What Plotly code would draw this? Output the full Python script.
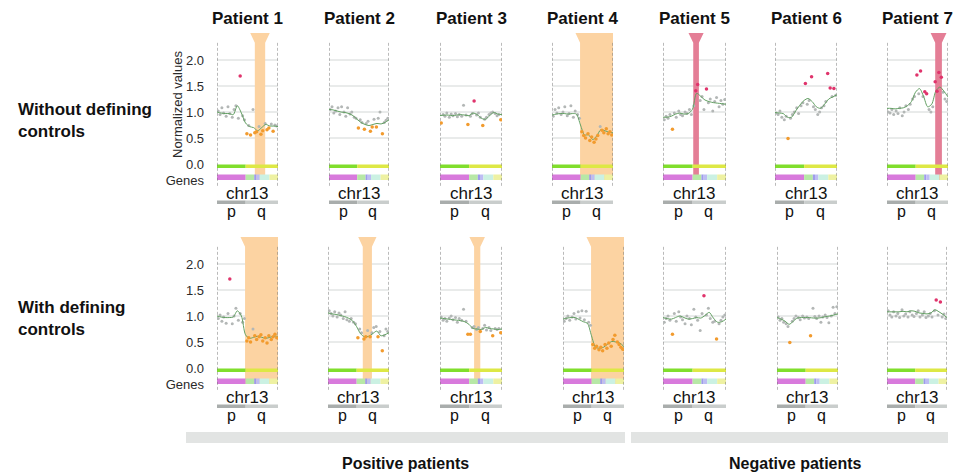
import plotly.graph_objects as go

# ---------------- data ----------------
PATIENTS = ["Patient 1", "Patient 2", "Patient 3", "Patient 4", "Patient 5", "Patient 6", "Patient 7"]
ROW_LABELS = ["Without defining<br>controls", "With defining<br>controls"]
GROUP_LABELS = ["Positive patients", "Negative patients"]
Y_TICK_VALS = [-0.31, 0.0, 0.5, 1.0, 1.5, 2.0]
Y_TICK_TEXT = ["Genes", "0.0", "0.5", "1.0", "1.5", "2.0"]
GRID_VALS = [0.5, 1.0, 1.5, 2.0]
CHROM = "chr13"
ARM_LABELS = ["p", "q"]
ARM_LABEL_X = [0.24, 0.73]
CENTROMERE = 0.47

# relative probe positions along chr13
PROBE_X = [0.02, 0.05, 0.08, 0.11, 0.15, 0.18, 0.21, 0.25, 0.28, 0.31, 0.35, 0.38, 0.42, 0.45,
           0.49, 0.52, 0.55, 0.59, 0.62, 0.65, 0.69, 0.72, 0.75, 0.79, 0.82, 0.85, 0.89, 0.92, 0.95, 0.98]
FIT_X = [0.0, 0.067, 0.133, 0.2, 0.267, 0.333, 0.4, 0.467, 0.533, 0.6, 0.667, 0.733, 0.8, 0.867, 0.933, 1.0]

# ---- without defining controls ----
VALUES_WITHOUT = [
    [1.02, 0.95, 1.08, 0.98, 0.92, 1.10, 0.97, 0.90, 1.05, 1.12, 0.88, 1.69, 0.93, 0.85,
     0.58, 0.74, 0.56, 1.05, 0.60, 0.62, 0.72, 0.57, 0.64, 0.78, 0.66, 0.69, 0.77, 0.63, 0.75, 0.73],
    [1.05, 1.10, 0.98, 1.02, 1.08, 0.95, 1.10, 1.00, 0.92, 1.08, 0.96, 1.00, 0.90, 0.88,
     0.69, 0.85, 0.80, 0.67, 0.78, 0.82, 0.63, 0.71, 0.86, 0.71, 0.88, 1.00, 0.58, 0.80, 0.84, 0.88],
    [0.79, 0.95, 0.92, 0.98, 0.90, 0.96, 0.93, 0.97, 0.91, 0.95, 0.92, 1.13, 0.94, 0.76,
     0.92, 0.97, 1.21, 0.94, 0.98, 0.90, 0.74, 0.86, 0.90, 0.95, 0.98, 1.00, 0.97, 0.93, 0.95, 0.85],
    [0.92, 1.05, 0.98, 1.08, 0.95, 1.00, 1.10, 0.93, 0.97, 1.12, 0.90, 1.02, 0.95, 0.88,
     0.62, 0.55, 0.50, 0.58, 0.45, 0.52, 0.42, 0.48, 0.55, 0.72, 0.65, 0.60, 0.68, 0.58, 0.62, 0.56],
    [0.85, 0.92, 0.88, 0.95, 0.67, 0.98, 0.90, 1.02, 0.95, 0.93, 1.00, 0.97, 1.05, 0.95,
     1.12, 1.41, 1.53, 1.22, 1.30, 1.05, 1.44, 1.18, 1.25, 1.02, 1.20, 1.28, 1.10, 1.22, 1.15, 1.24],
    [0.98, 0.95, 1.02, 0.90, 0.85, 0.92, 0.49, 0.88, 0.95, 1.00, 1.08, 0.97, 1.12, 1.18,
     1.55, 1.15, 1.22, 1.68, 1.10, 1.05, 0.95, 1.00, 1.08, 1.12, 1.20, 1.74, 1.46, 1.30, 1.45, 1.32],
    [1.00, 0.98, 1.05, 0.95, 1.02, 0.97, 1.08, 0.93, 1.00, 1.12, 1.05, 1.15, 1.25, 1.30,
     1.71, 1.35, 1.79, 1.30, 1.39, 1.35, 1.05, 1.00, 1.10, 1.58, 1.40, 1.76, 1.67, 1.38, 1.25, 1.20],
]
FIT_WITHOUT = [
    [1.00, 0.98, 0.97, 0.97, 0.95, 1.12, 0.98, 0.79, 0.72, 0.70, 0.64, 0.70, 0.76, 0.73, 0.73, 0.72],
    [1.05, 1.04, 1.02, 1.00, 0.99, 0.97, 0.93, 0.86, 0.80, 0.76, 0.74, 0.76, 0.78, 0.77, 0.80, 0.85],
    [0.93, 0.94, 0.94, 0.93, 0.94, 0.95, 0.94, 0.93, 0.98, 0.95, 0.88, 0.86, 0.93, 0.99, 0.96, 0.95],
    [0.94, 0.96, 0.97, 0.97, 0.96, 0.97, 0.96, 0.75, 0.56, 0.56, 0.47, 0.54, 0.66, 0.64, 0.61, 0.60],
    [0.90, 0.90, 0.92, 0.96, 0.98, 0.96, 0.97, 1.05, 1.36, 1.30, 1.23, 1.20, 1.18, 1.17, 1.16, 1.15],
    [0.99, 0.98, 0.97, 0.90, 0.90, 1.02, 1.13, 1.22, 1.26, 1.20, 1.10, 1.07, 1.15, 1.25, 1.29, 1.33],
    [1.07, 1.07, 1.06, 1.07, 1.08, 1.12, 1.20, 1.38, 1.45, 1.30, 1.10, 1.15, 1.40, 1.48, 1.40, 1.29],
]
LOSS_WITHOUT = [[14, 16, 18, 19, 21, 22, 24, 25, 27], [14, 17, 20, 21, 23, 26], [0, 13, 20, 29],
                [14, 15, 16, 17, 18, 19, 20, 21, 22, 24, 25, 26, 27, 28, 29], [4], [6], []]
GAIN_WITHOUT = [[11], [], [16], [], [15, 16, 20], [14, 17, 25, 26, 28], [14, 16, 18, 19, 23, 24, 25, 26]]

# ---- with defining controls ----
VALUES_WITH = [
    [0.95, 1.02, 0.90, 0.98, 0.86, 1.05, 1.71, 0.85, 1.00, 1.15, 0.92, 1.05, 0.88, 0.95,
     0.52, 0.58, 0.50, 0.75, 0.62, 0.55, 0.60, 0.64, 0.52, 0.58, 0.48, 0.62, 0.55, 0.60, 0.65, 0.58],
    [1.10, 1.05, 1.00, 1.08, 0.98, 1.06, 1.02, 0.95, 1.08, 0.93, 0.90, 0.95, 0.88, 0.85,
     0.58, 0.75, 0.68, 0.56, 0.60, 0.72, 0.60, 0.68, 0.78, 0.80, 0.60, 0.70, 0.33, 0.62, 0.75, 0.70],
    [0.98, 0.92, 0.95, 0.90, 0.96, 1.00, 0.93, 0.97, 0.88, 0.95, 0.92, 1.13, 0.90, 0.65,
     0.65, 0.78, 0.80, 0.74, 0.78, 0.70, 0.76, 0.82, 0.73, 0.78, 0.72, 0.62, 0.76, 0.74, 0.76, 0.68],
    [0.90, 0.95, 1.00, 0.92, 0.98, 1.05, 0.94, 1.08, 0.96, 1.10, 0.93, 1.09, 0.88, 0.82,
     0.45, 0.38, 0.42, 0.35, 0.40, 0.33, 0.45, 0.38, 0.48, 0.42, 0.55, 0.63, 0.50, 0.45, 0.40, 0.36],
    [0.88, 0.95, 1.00, 0.92, 0.65, 1.05, 0.90, 1.08, 0.98, 0.93, 0.85, 1.00, 0.95, 0.83,
     1.13, 0.98, 0.92, 0.72, 1.05, 1.39, 1.02, 1.15, 0.95, 0.88, 0.90, 0.56, 0.85, 0.92, 0.98, 1.02],
    [0.98, 0.92, 0.95, 0.88, 0.85, 0.80, 0.49, 0.90, 0.95, 1.00, 0.97, 0.93, 1.00, 0.96,
     0.98, 0.95, 0.62, 1.15, 0.99, 0.95, 1.00, 0.88, 0.98, 1.02, 0.97, 0.87, 1.00, 1.17, 1.05, 1.18],
    [1.10, 1.02, 0.98, 1.08, 1.00, 1.05, 0.97, 1.12, 1.00, 1.04, 0.98, 1.08, 1.02, 0.99,
     1.05, 1.10, 0.98, 1.02, 1.08, 0.97, 1.00, 1.05, 0.98, 1.10, 1.31, 1.02, 1.27, 0.98, 1.04, 0.95],
]
FIT_WITH = [
    [1.00, 0.98, 0.97, 0.97, 0.98, 1.10, 1.00, 0.64, 0.57, 0.59, 0.61, 0.59, 0.57, 0.59, 0.61, 0.61],
    [1.06, 1.04, 1.03, 1.01, 0.99, 0.96, 0.91, 0.80, 0.66, 0.60, 0.61, 0.66, 0.71, 0.62, 0.64, 0.68],
    [0.96, 0.95, 0.94, 0.93, 0.92, 0.91, 0.89, 0.84, 0.76, 0.75, 0.74, 0.78, 0.76, 0.75, 0.74, 0.75],
    [0.94, 0.96, 0.97, 0.97, 0.93, 0.89, 0.86, 0.62, 0.40, 0.38, 0.40, 0.46, 0.51, 0.50, 0.48, 0.41],
    [0.97, 0.95, 0.94, 0.97, 1.00, 0.97, 0.94, 0.95, 0.97, 0.96, 1.01, 1.07, 0.96, 0.88, 0.89, 0.94],
    [0.97, 0.94, 0.90, 0.84, 0.90, 0.96, 0.97, 0.97, 0.97, 0.96, 0.96, 0.97, 0.99, 1.00, 1.02, 1.04],
    [1.08, 1.08, 1.08, 1.08, 1.09, 1.08, 1.10, 1.09, 1.06, 1.05, 1.04, 1.06, 1.12, 1.08, 1.03, 0.97],
]
LOSS_WITH = [[14, 15, 16, 18, 19, 20, 21, 22, 23, 24, 25, 26, 27, 28, 29], [14, 17, 18, 20, 24, 26],
             [13, 14, 19, 25, 29], list(range(14, 30)), [4, 25], [6, 16], []]
GAIN_WITH = [[6], [], [], [], [19], [], [24, 26]]

# called aberrant regions: (row, patient, start, end, kind)
REGIONS = [
    (0, 0, 0.62, 0.79, "loss"),
    (0, 3, 0.46, 1.00, "loss"),
    (0, 4, 0.48, 0.57, "gain"),
    (0, 6, 0.79, 0.90, "gain"),
    (1, 0, 0.46, 1.00, "loss"),
    (1, 1, 0.57, 0.72, "loss"),
    (1, 2, 0.55, 0.65, "loss"),
    (1, 3, 0.46, 1.00, "loss"),
]

GENE_BANDS = [(0.0, 0.47, "#D87ADC"), (0.47, 0.61, "#B7E8A6"), (0.61, 0.645, "#9E9CEB"),
              (0.645, 0.70, "#BDBDF3"), (0.70, 0.86, "#CBF1E3"), (0.86, 1.0, "#EEF1A2")]

# ---------------- layout / style ----------------
W, H = 956, 475
FONT = "Liberation Sans, Arial, sans-serif"
PANEL_X_PX = [
    [(217, 278), (329, 389), (440, 502), (552, 613), (663, 726), (775, 837), (887, 948)],
    [(217, 278), (328, 389), (440, 502), (563, 624), (663, 726), (777, 838), (887, 947)],
]
ZERO_PX = [164, 368]
PX_PER_UNIT = 52
Y_LO, Y_HI = -1.05, 2.55
REGION_COLOR = {"loss": "#FCD3A2", "gain": "#E47E96"}
GRAY_DOT = "#B3B7B6"
FIT_COLOR = "#629F62"
LOSS_DOT = "#F29B2E"
GAIN_DOT = "#E0346C"

fig = go.Figure()
shapes = []
annotations = []
layout = {}

rows = [(VALUES_WITHOUT, FIT_WITHOUT, LOSS_WITHOUT, GAIN_WITHOUT),
        (VALUES_WITH, FIT_WITH, LOSS_WITH, GAIN_WITH)]

n = 0
for r in range(2):
    vals_r, fit_r, loss_r, gain_r = rows[r]
    top_px = ZERO_PX[r] - PX_PER_UNIT * Y_HI
    bot_px = ZERO_PX[r] - PX_PER_UNIT * Y_LO
    ydom = [1 - bot_px / H, 1 - top_px / H]
    for c in range(7):
        n += 1
        xa, ya = f"x{n}", f"y{n}"
        x0p, x1p = PANEL_X_PX[r][c]
        layout[f"xaxis{n}"] = dict(domain=[x0p / W, x1p / W], range=[0, 1], anchor=ya,
                                   visible=False, fixedrange=True)
        yax = dict(domain=ydom, range=[Y_LO, Y_HI], anchor=xa, showgrid=False, zeroline=False,
                   showline=False, fixedrange=True, ticks="")
        if c == 0:
            yax.update(showticklabels=True, tickvals=Y_TICK_VALS, ticktext=Y_TICK_TEXT,
                       tickfont=dict(family=FONT, size=13, color="#2a2a2a"), ticklabelstandoff=12)
        else:
            yax.update(showticklabels=False)
        layout[f"yaxis{n}"] = yax

        vals, fit = vals_r[c], fit_r[c]
        loss, gain = set(loss_r[c]), set(gain_r[c])
        gi = [i for i in range(len(PROBE_X)) if i not in loss and i not in gain]
        fig.add_trace(go.Scatter(x=[PROBE_X[i] for i in gi], y=[vals[i] for i in gi], mode="markers",
                                 marker=dict(size=3, color=GRAY_DOT), xaxis=xa, yaxis=ya,
                                 showlegend=False, hoverinfo="skip"))
        fig.add_trace(go.Scatter(x=FIT_X, y=fit, mode="lines", line=dict(color=FIT_COLOR, width=1,
                                 shape="spline", smoothing=0.8), xaxis=xa, yaxis=ya,
                                 showlegend=False, hoverinfo="skip"))
        li = sorted(loss)
        fig.add_trace(go.Scatter(x=[PROBE_X[i] for i in li], y=[vals[i] for i in li], mode="markers",
                                 marker=dict(size=3.5, color=LOSS_DOT), xaxis=xa, yaxis=ya,
                                 showlegend=False, hoverinfo="skip"))
        gi2 = sorted(gain)
        fig.add_trace(go.Scatter(x=[PROBE_X[i] for i in gi2], y=[vals[i] for i in gi2], mode="markers",
                                 marker=dict(size=3.5, color=GAIN_DOT), xaxis=xa, yaxis=ya,
                                 showlegend=False, hoverinfo="skip"))

        # grid lines
        for g in GRID_VALS:
            shapes.append(dict(type="line", xref=xa, yref=ya, x0=0, x1=1, y0=g, y1=g,
                               line=dict(color="#D3D7D6", width=1), layer="below"))
        # called region
        for (rr, cc, s, e, kind) in REGIONS:
            if rr == r and cc == c:
                neck, topv, bot = 2.33, 2.52, -0.31
                lt = s - 0.075
                rt = 1.0 if e >= 1.0 else min(1.0, e + 0.075)
                path = (f"M {lt},{topv} L {rt},{topv} L {e},{neck} L {e},{bot} "
                        f"L {s},{bot} L {s},{neck} Z")
                shapes.append(dict(type="path", xref=xa, yref=ya, path=path,
                                   fillcolor=REGION_COLOR[kind], line=dict(width=0), layer="below"))
        # copy-number bar (green/yellow)
        shapes.append(dict(type="rect", xref=xa, yref=ya, x0=0, x1=CENTROMERE, y0=-0.075, y1=-0.01,
                           fillcolor="#80DE2C", line=dict(width=0), layer="below"))
        shapes.append(dict(type="rect", xref=xa, yref=ya, x0=CENTROMERE, x1=1, y0=-0.075, y1=-0.01,
                           fillcolor="#DDE845", line=dict(width=0), layer="below"))
        # genes bar
        for (b0, b1, col) in GENE_BANDS:
            shapes.append(dict(type="rect", xref=xa, yref=ya, x0=b0, x1=b1, y0=-0.31, y1=-0.20,
                               fillcolor=col, line=dict(width=0), layer="below"))
        # dashed borders
        for xv in (0, 1):
            shapes.append(dict(type="line", xref=xa, yref=ya, x0=xv, x1=xv, y0=-0.42, y1=2.33,
                               line=dict(color="#777777", width=1, dash="3px,2px"), layer="below"))
        # p / q arm bar
        shapes.append(dict(type="rect", xref=xa, yref=ya, x0=0, x1=CENTROMERE, y0=-0.77, y1=-0.70,
                           fillcolor="#A9ADAC", line=dict(width=0), layer="below"))
        shapes.append(dict(type="rect", xref=xa, yref=ya, x0=CENTROMERE, x1=1, y0=-0.77, y1=-0.70,
                           fillcolor="#C9CDCC", line=dict(width=0), layer="below"))
        annotations.append(dict(xref=xa, yref=ya, x=0.5, y=-0.56, text=CHROM, showarrow=False,
                                xanchor="center", yanchor="middle",
                                font=dict(family=FONT, size=17, color="#111")))
        for lab, lx in zip(ARM_LABELS, ARM_LABEL_X):
            annotations.append(dict(xref=xa, yref=ya, x=lx, y=-0.91, text=lab, showarrow=False,
                                    xanchor="center", yanchor="middle",
                                    font=dict(family=FONT, size=16, color="#111")))
        if r == 0:
            annotations.append(dict(xref="paper", yref="paper", x=(x0p + x1p) / 2 / W, y=1 - 18 / H,
                                    xanchor="center", yanchor="middle",
                                    text=f"<b>{PATIENTS[c]}</b>", showarrow=False,
                                    font=dict(family=FONT, size=17, color="#111")))

for yc, lab in zip([120, 318], ROW_LABELS):
    annotations.append(dict(xref="paper", yref="paper", x=16 / W, y=1 - yc / H,
                            xanchor="left", yanchor="middle", align="left", text=f"<b>{lab}</b>",
                            showarrow=False, font=dict(family=FONT, size=17, color="#111")))

annotations.append(dict(xref="paper", yref="paper", x=177 / W, y=1 - 105 / H, text="Normalized values",
                        xanchor="center", yanchor="middle", textangle=-90, showarrow=False,
                        font=dict(family=FONT, size=13, color="#2a2a2a")))

# group bars and labels
for (gx0, gx1) in [(186, 625), (631, 948)]:
    shapes.append(dict(type="rect", xref="paper", yref="paper", x0=gx0 / W, x1=gx1 / W,
                       y0=1 - 443 / H, y1=1 - 432 / H, fillcolor="#E2E4E3", line=dict(width=0),
                       layer="below"))
for xc, lab in zip([405, 795], GROUP_LABELS):
    annotations.append(dict(xref="paper", yref="paper", x=xc / W, y=1 - 463 / H, text=f"<b>{lab}</b>",
                            xanchor="center", yanchor="middle", showarrow=False,
                            font=dict(family=FONT, size=16, color="#111")))

fig.update_layout(width=W, height=H, margin=dict(l=0, r=0, t=0, b=0), plot_bgcolor="white",
                  paper_bgcolor="white", shapes=shapes, annotations=annotations, **layout)

fig.write_html("out.html", config={"displayModeBar": False},
               post_script="document.body.style.margin='0';")
